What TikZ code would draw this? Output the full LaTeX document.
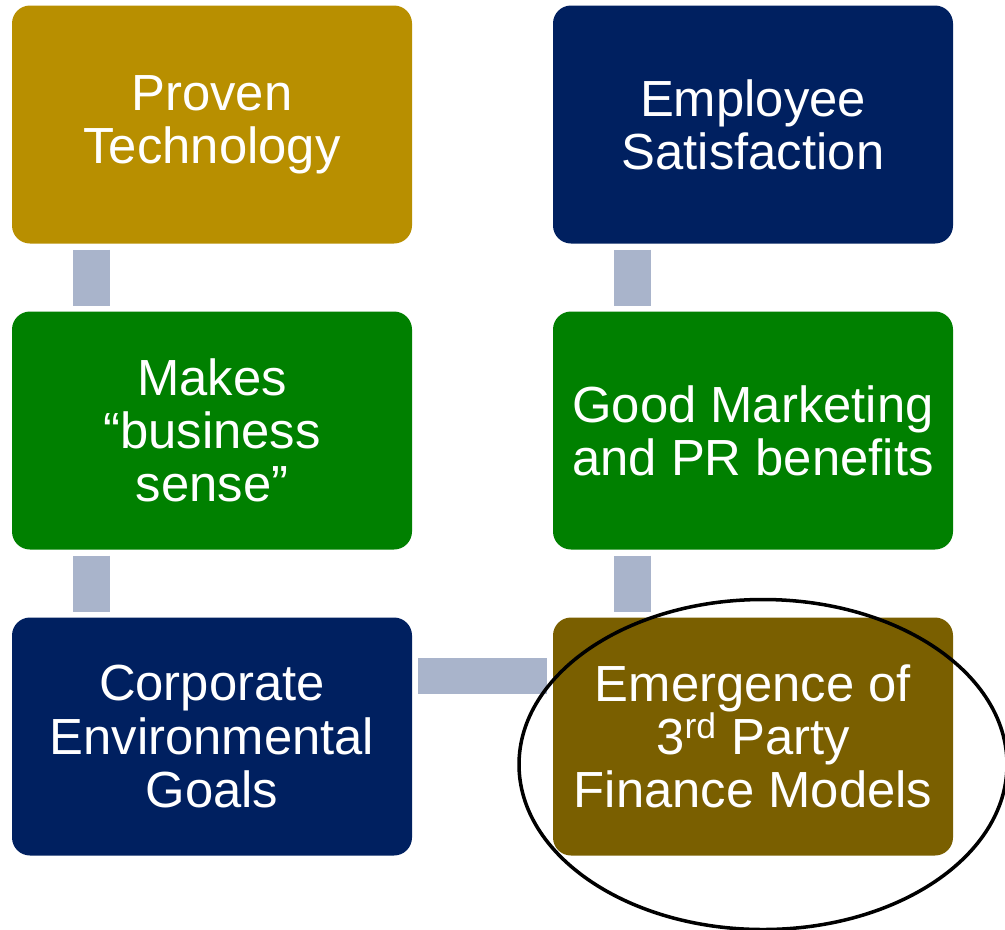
\documentclass[tikz,border=0pt]{standalone}
\usepackage{fontspec}
\setmainfont{Liberation Sans}
\usepackage{tikz}
\usetikzlibrary{
	positioning,
	backgrounds,
	}
\definecolor{ochre}{HTML}{B88F00}
\definecolor{navy}{HTML}{002060}
\definecolor{leaf}{HTML}{008000}
\definecolor{umber}{HTML}{7A5F00}
\definecolor{linkgray}{HTML}{A9B4CB}

\begin{document}
\begin{tikzpicture}[box/.style={shape=rectangle,rounded corners=0.36cm,minimum width=8cm,minimum height=4.76cm,inner sep=0pt,outer sep=0pt,align=center,text=white,font=\fontsize{28.9}{30.2}\selectfont},link/.style={line width=0.74cm,color=linkgray},ring/.style={line width=2pt}]
\useasboundingbox (0,0) rectangle (20.1,-18.58);
\node[box,fill=ochre] (tech) at (4.24,-2.49) {Proven\\Technology};
\node[box,fill=leaf,below=1.36cm of tech] (sense) {Makes\\“business\\sense”};
\node[box,fill=navy,below=1.36cm of sense] (goals) {Corporate\\Environmental\\Goals};
\node[box,fill=navy,right=2.82cm of tech] (staff) {Employee\\Satisfaction};
\node[box,fill=leaf,below=1.36cm of staff] (pr) {Good Marketing\\and PR benefits};
\node[box,fill=umber,below=1.36cm of pr] (finance) {Emergence of\\3\textsuperscript{rd} Party\\Finance Models};
\begin{scope}[on background layer]
\draw[link] ([xshift=1.59cm,yshift=-0.12cm]tech.south west) -- ([xshift=1.59cm,yshift=0.12cm]sense.north west);
\draw[link] ([xshift=1.59cm,yshift=-0.12cm]sense.south west) -- ([xshift=1.59cm,yshift=0.12cm]goals.north west);
\draw[link] ([xshift=1.59cm,yshift=-0.12cm]staff.south west) -- ([xshift=1.59cm,yshift=0.12cm]pr.north west);
\draw[link] ([xshift=1.59cm,yshift=-0.12cm]pr.south west) -- ([xshift=1.59cm,yshift=0.12cm]finance.north west);
\draw[link,line width=0.72cm] ([xshift=0.12cm,yshift=-1.16cm]goals.north east) -- ([xshift=-0.12cm,yshift=-1.16cm]finance.north west);
\end{scope}
\draw[ring] ([xshift=0.2cm,yshift=-0.56cm]finance.center) ellipse [x radius=4.88cm,y radius=3.3cm];
\end{tikzpicture}
\end{document}
